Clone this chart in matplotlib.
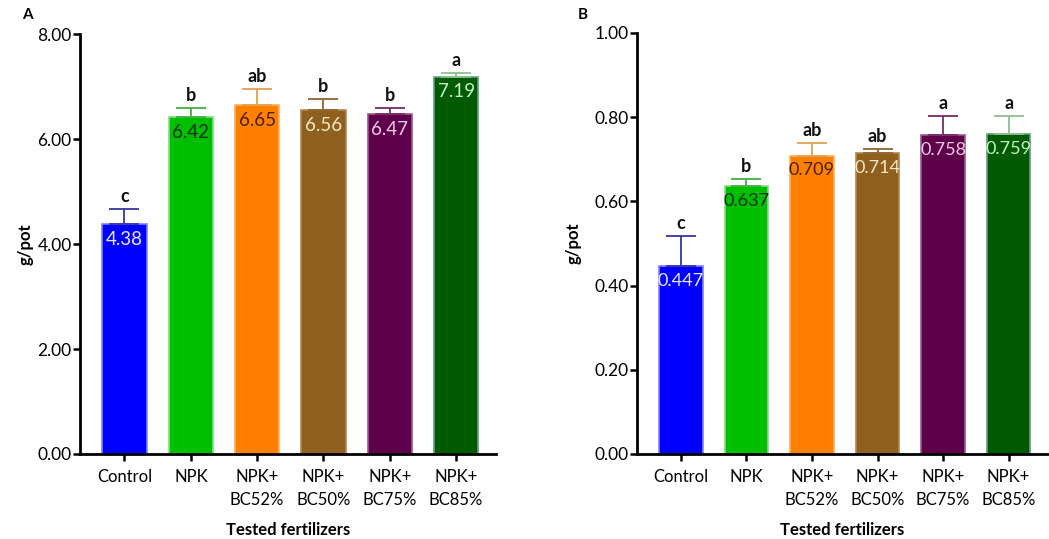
import matplotlib.pyplot as plt
from matplotlib.ticker import FixedLocator

# ── Data ──────────────────────────────────────────────────────────────────────

categories = ["Control", "NPK", "NPK+\nBC52%", "NPK+\nBC50%", "NPK+\nBC75%", "NPK+\nBC85%"]

a_values  = [4.38, 6.42, 6.65, 6.56, 6.47, 7.19]
a_errors  = [0.29, 0.17, 0.30, 0.20, 0.12, 0.07]
a_letters = ["c", "b", "ab", "b", "b", "a"]
a_labels  = ["4.38", "6.42", "6.65", "6.56", "6.47", "7.19"]

b_values  = [0.447, 0.637, 0.709, 0.714, 0.758, 0.759]
b_errors  = [0.071, 0.016, 0.030, 0.010, 0.045, 0.044]
b_letters = ["c", "b", "ab", "ab", "a", "a"]
b_labels  = ["0.447", "0.637", "0.709", "0.714", "0.758", "0.759"]

# ── Styling ───────────────────────────────────────────────────────────────────

BAR_COLOURS  = ["#0000FF", "#00BE00", "#FF8000", "#8F5F20", "#5E004A", "#005A00"]
EDGE_COLOURS = ["#8080FF", "#7FE07F", "#FFB060", "#B08850", "#9A5A8A", "#60A080"]
ERR_COLOURS  = ["#3535A5", "#40B040", "#E0A050", "#8F6530", "#7A2A6A", "#8FBF8F"]
TEXT_COLOURS = ["#E8E8FF", "#103010", "#4A2000", "#F5E8C0", "#F0C8E8", "#C8F0C8"]

plt.rcParams["font.family"] = ["Lato", "DejaVu Sans"]


def draw_panel(ax, values, errors, letters, labels, ymax, yticks, fmt,
               label_size, ylabel_pad):
    x = list(range(len(values)))
    ax.bar(x, values, width=0.667, color=BAR_COLOURS, edgecolor=EDGE_COLOURS,
           linewidth=1.2, zorder=2)
    for xi, v, e, col in zip(x, values, errors, ERR_COLOURS):
        ax.errorbar(xi, v, yerr=[[0], [e]], fmt="none", ecolor=col,
                    elinewidth=1.3, capsize=11, capthick=1.3, zorder=3)
    for xi, v, e, let in zip(x, values, errors, letters):
        ax.annotate(let, xy=(xi, v + e), xytext=(0, 3), textcoords="offset points",
                    ha="center", va="bottom", fontsize=13, fontweight="bold",
                    color="#111111")
    for xi, v, lab, tc in zip(x, values, labels, TEXT_COLOURS):
        ax.annotate(lab, xy=(xi, v), xytext=(0, -5), textcoords="offset points",
                    ha="center", va="top", fontsize=label_size, color=tc, zorder=4)

    ax.set_ylim(0, ymax)
    ax.set_xlim(-0.67, 5.6)
    ax.yaxis.set_major_locator(FixedLocator(yticks))
    ax.set_yticklabels([fmt.format(t) for t in yticks])
    ax.set_xticks(x)
    ax.set_xticklabels(categories, fontsize=12, linespacing=1.5)
    ax.tick_params(axis="y", labelsize=12.5, length=5, width=1.8, pad=1)
    ax.tick_params(axis="x", length=5, width=1.8, pad=6)

    for side in ("top", "right"):
        ax.spines[side].set_visible(False)
    for side in ("left", "bottom"):
        ax.spines[side].set_linewidth(2)

    ax.set_ylabel("g/pot", fontsize=12, fontweight="bold", labelpad=ylabel_pad)
    ax.set_xlabel("Tested fertilizers", fontsize=12, fontweight="bold", labelpad=10)


fig = plt.figure(figsize=(10.49, 5.39), dpi=100)
ax_a = fig.add_axes([0.0763, 0.1577, 0.3965, 0.7792])
ax_b = fig.add_axes([0.6072, 0.1577, 0.3918, 0.7811])

draw_panel(ax_a, a_values, a_errors, a_letters, a_labels, 8.0,
           [0, 2, 4, 6, 8], "{:.2f}", 13.5, 3)
draw_panel(ax_b, b_values, b_errors, b_letters, b_labels, 1.0,
           [0, 0.2, 0.4, 0.6, 0.8, 1.0], "{:.2f}", 13, 9)

fig.text(27 / 1049, 1 - 15 / 539, "A", fontsize=11, fontweight="bold",
         ha="center", va="center")
fig.text(583 / 1049, 1 - 15 / 539, "B", fontsize=11, fontweight="bold",
         ha="center", va="center")

fig.savefig("out.png", dpi=100)
